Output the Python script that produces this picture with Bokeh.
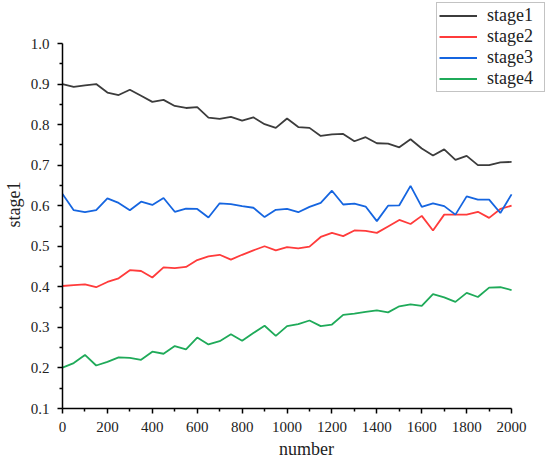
from bokeh.plotting import figure
from bokeh.models import FixedTicker, PrintfTickFormatter, Legend, LegendItem, Range1d
from bokeh.embed import file_html
from bokeh.resources import INLINE

number = list(range(0, 2001, 50))

stage1 = [0.900, 0.893, 0.897, 0.900, 0.879, 0.873, 0.886, 0.871, 0.856, 0.861,
          0.846, 0.841, 0.843, 0.817, 0.814, 0.819, 0.810, 0.818, 0.801, 0.792,
          0.815, 0.794, 0.792, 0.772, 0.776, 0.777, 0.759, 0.769, 0.754, 0.753,
          0.744, 0.764, 0.741, 0.724, 0.739, 0.713, 0.723, 0.700, 0.700, 0.707,
          0.708]
stage2 = [0.402, 0.404, 0.406, 0.399, 0.412, 0.421, 0.441, 0.439, 0.423, 0.448,
          0.446, 0.449, 0.466, 0.475, 0.479, 0.467, 0.479, 0.490, 0.500, 0.490,
          0.498, 0.495, 0.499, 0.523, 0.533, 0.525, 0.539, 0.538, 0.533, 0.549,
          0.565, 0.555, 0.575, 0.539, 0.578, 0.578, 0.578, 0.585, 0.570, 0.592,
          0.600]
stage3 = [0.629, 0.589, 0.584, 0.589, 0.618, 0.607, 0.589, 0.610, 0.602, 0.619,
          0.585, 0.593, 0.592, 0.571, 0.606, 0.604, 0.599, 0.595, 0.572, 0.590,
          0.592, 0.584, 0.597, 0.607, 0.637, 0.603, 0.605, 0.598, 0.562, 0.600,
          0.601, 0.649, 0.597, 0.606, 0.599, 0.578, 0.623, 0.615, 0.615, 0.582,
          0.628]
stage4 = [0.201, 0.212, 0.232, 0.206, 0.215, 0.226, 0.225, 0.220, 0.240, 0.235,
          0.254, 0.246, 0.275, 0.258, 0.266, 0.283, 0.267, 0.286, 0.304, 0.279,
          0.303, 0.308, 0.317, 0.303, 0.307, 0.331, 0.334, 0.338, 0.342, 0.337,
          0.352, 0.357, 0.353, 0.382, 0.374, 0.363, 0.385, 0.375, 0.398, 0.399,
          0.392]

series_names = ["stage1", "stage2", "stage3", "stage4"]
colors = ["#3c3c3c", "#ff3b3b", "#1565e0", "#1faa59"]

x_ticks = list(range(0, 2001, 200))
x_minor = list(range(100, 2000, 200))
y_ticks = [0.1, 0.2, 0.3, 0.4, 0.5, 0.6, 0.7, 0.8, 0.9, 1.0]
y_minor = [0.15, 0.25, 0.35, 0.45, 0.55, 0.65, 0.75, 0.85, 0.95]

FONT = "Liberation Serif"

W, H = 550, 463
LEFT, BOTTOM = 61, 55
PLOT_W = 450   # pixels from x=0 to x=2000
PLOT_H = 365   # pixels from y=0.1 to y=1.0
# the frame reaches the top/right edges so the legend (partly outside
# the axes box) is not clipped; the axes are limited with "bounds".
X_END = 2000 * (W - LEFT) / PLOT_W
Y_END = 0.1 + 0.9 * (H - BOTTOM) / PLOT_H

p = figure(width=W, height=H, output_backend="svg", toolbar_location=None,
           x_range=Range1d(0, X_END), y_range=Range1d(0.1, Y_END),
           min_border_left=LEFT, min_border_right=0, min_border_top=0,
           min_border_bottom=BOTTOM, x_axis_label="number", y_axis_label="stage1")
p.outline_line_color = None
p.xgrid.visible = False
p.ygrid.visible = False
p.background_fill_color = "white"
p.border_fill_color = "white"

p.xaxis.ticker = FixedTicker(ticks=x_ticks, minor_ticks=x_minor)
p.yaxis.ticker = FixedTicker(ticks=y_ticks, minor_ticks=y_minor)
p.xaxis.formatter = PrintfTickFormatter(format="%d")
p.yaxis.formatter = PrintfTickFormatter(format="%.1f")
p.xaxis.bounds = (0, 2000)
p.yaxis.bounds = (0.1, 1.0)

for ax in (p.xaxis[0], p.yaxis[0]):
    ax.axis_line_width = 1.5
    ax.axis_line_color = "black"
    ax.major_tick_line_width = 1.5
    ax.major_tick_line_color = "black"
    ax.minor_tick_line_width = 1.5
    ax.minor_tick_line_color = "black"
    ax.major_tick_out = 5
    ax.major_tick_in = 0
    ax.minor_tick_out = 3
    ax.minor_tick_in = 0
    ax.major_label_text_font = FONT
    ax.major_label_text_font_size = "15px"
    ax.major_label_text_color = "#222222"
    ax.major_label_standoff = 8
    ax.axis_label_text_font = FONT
    ax.axis_label_text_font_size = "18px"
    ax.axis_label_text_font_style = "normal"
    ax.axis_label_text_color = "#222222"
    ax.axis_label_standoff = 4

data = [stage1, stage2, stage3, stage4]
items = []
for name, ys, c in zip(series_names, data, colors):
    r = p.line(number, ys, line_color=c, line_width=1.8)
    items.append(LegendItem(label=name, renderers=[r]))

legend = Legend(items=items, location=(374, 316),
                border_line_color="#888888", border_line_width=1,
                background_fill_color="white", background_fill_alpha=1.0,
                label_text_font=FONT, label_text_font_size="18px",
                label_text_color="#222222",
                glyph_width=38, glyph_height=21, label_height=21,
                label_width=55, label_standoff=10, spacing=0,
                padding=2, margin=0)
p.add_layout(legend, "center")

open("out.html", "w").write(file_html(p, INLINE))
